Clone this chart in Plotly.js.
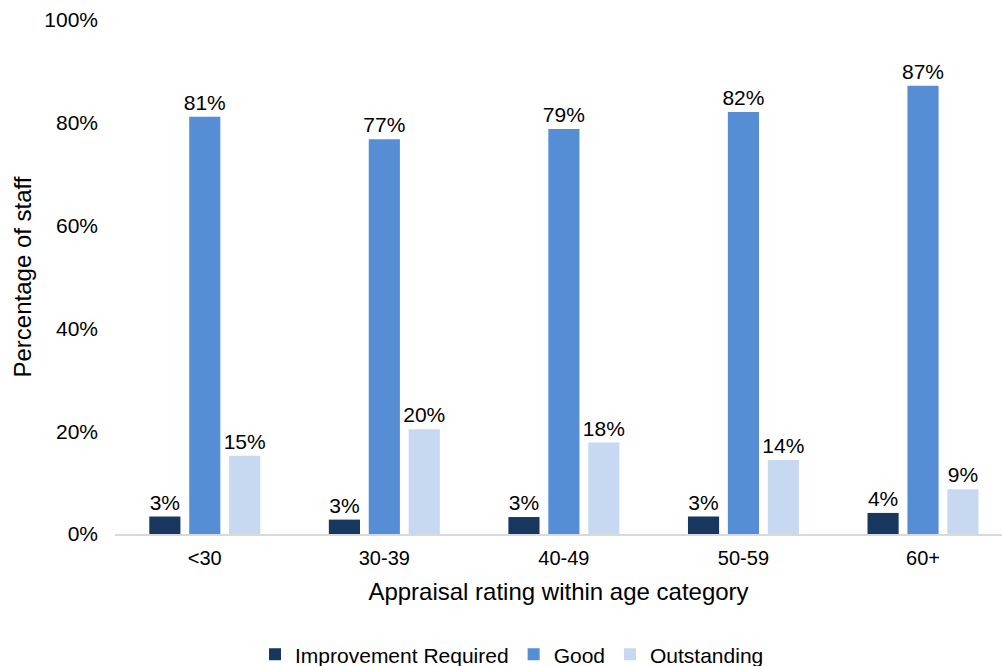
<!DOCTYPE html>
<html>
<head>
<meta charset="utf-8">
<script src="https://cdn.plot.ly/plotly-3.0.1.min.js"></script>
<style>html,body{margin:0;padding:0;background:#fff;}#chart{width:1002px;height:666px;}</style>
</head>
<body>
<div id="chart"></div>
<script>
const categories = ["<30", "30-39", "40-49", "50-59", "60+"];
const improvementRequired = [3.4, 2.8, 3.3, 3.4, 4.1];
const good = [81.2, 76.8, 78.8, 82.1, 87.2];
const outstanding = [15.2, 20.4, 17.8, 14.4, 8.7];
const seriesNames = ["Improvement Required", "Good", "Outstanding"];
const colors = ["#17375E", "#558ED5", "#C6D9F1"];

const series = [improvementRequired, good, outstanding];
const font = "Liberation Sans, Arial, sans-serif";
const traces = series.map((vals, i) => ({
  type: "bar",
  name: seriesNames[i],
  x: categories,
  y: vals,
  marker: {color: colors[i], line: {width: 12, color: "rgba(255,255,255,0)"}},
  text: vals.map(v => Math.round(v) + "%"),
  textposition: "outside",
  constraintext: "none",
  textfont: {family: font, size: 21, color: "#000"},
  cliponaxis: false,
  hoverinfo: "skip"
}));

const layout = {
  width: 1002,
  height: 666,
  margin: {l: 115, r: 0, t: 20, b: 132},
  paper_bgcolor: "#fff",
  plot_bgcolor: "#fff",
  barmode: "group",
  bargap: 0.333,
  bargroupgap: 0.22,
  font: {family: font, color: "#000"},
  xaxis: {
    type: "category",
    range: [-0.5, 4.44],
    showline: true,
    linecolor: "#d9d9d9",
    linewidth: 1.5,
    showgrid: false,
    ticks: "",
    tickfont: {family: font, size: 20, color: "#000"},
    ticklabelstandoff: 5,
    title: {text: "Appraisal rating within age category", font: {family: font, size: 24, color: "#000"}, standoff: 15}
  },
  yaxis: {
    range: [0, 100],
    tickvals: [0, 20, 40, 60, 80, 100],
    ticktext: ["0%", "20%", "40%", "60%", "80%", "100%"],
    showgrid: false,
    zeroline: false,
    showline: false,
    ticks: "",
    tickfont: {family: font, size: 21, color: "#000"},
    ticklabelstandoff: 16,
    title: {text: "Percentage of staff", font: {family: font, size: 24, color: "#000"}, standoff: 5}
  },
  showlegend: true,
  legend: {
    orientation: "h",
    xref: "container",
    yref: "container",
    x: 0.511,
    xanchor: "center",
    y: 0.017,
    yanchor: "middle",
    font: {family: font, size: 21, color: "#000"},
    itemwidth: 30,
    traceorder: "normal"
  }
};

Plotly.newPlot("chart", traces, layout, {displayModeBar: false, staticPlot: true});
</script>
</body>
</html>
